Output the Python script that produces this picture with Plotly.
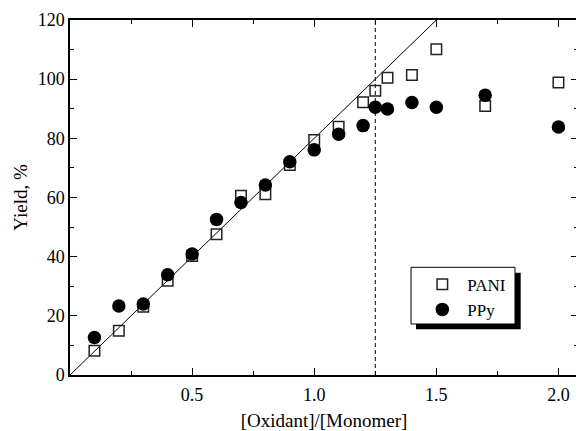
import plotly.graph_objects as go

ratio_pani = [0.1, 0.2, 0.3, 0.4, 0.5, 0.6, 0.7, 0.8, 0.9, 1.0, 1.1, 1.2, 1.25, 1.3, 1.4, 1.5, 1.7, 2.0]
yield_pani = [8.2, 15.0, 23.1, 31.9, 40.2, 47.6, 60.6, 61.1, 71.0, 79.4, 83.9, 92.2, 96.1, 100.5, 101.4, 110.1, 90.9, 98.9]

ratio_ppy = [0.1, 0.2, 0.3, 0.4, 0.5, 0.6, 0.7, 0.8, 0.9, 1.0, 1.1, 1.2, 1.25, 1.3, 1.4, 1.5, 1.7, 2.0]
yield_ppy = [12.7, 23.3, 24.0, 33.9, 40.9, 52.6, 58.3, 64.2, 72.1, 76.1, 81.4, 84.3, 90.5, 89.9, 92.1, 90.5, 94.6, 83.8]

ideal_x = [0.0, 1.5]
ideal_y = [0.0, 120.0]
limit_ratio = 1.25

FONT = "Liberation Serif"

fig = go.Figure()
fig.add_trace(go.Scatter(x=ideal_x, y=ideal_y, mode="lines",
                         line=dict(color="black", width=1), showlegend=False, hoverinfo="skip"))
fig.add_trace(go.Scatter(x=ratio_pani, y=yield_pani, mode="markers", name="PANI",
                         marker=dict(symbol="square-open", size=10.5, color="#222",
                                     line=dict(width=1.5, color="#222"))))
fig.add_trace(go.Scatter(x=ratio_ppy, y=yield_ppy, mode="markers", name="PPy",
                         marker=dict(symbol="circle", size=13.5, color="black")))

fig.add_shape(type="line", xref="x", yref="y", x0=limit_ratio, x1=limit_ratio, y0=0, y1=120,
              line=dict(color="black", width=1, dash="4px,3px"), layer="below")

# legend frame: shadow then white box
fig.add_shape(type="rect", xref="paper", yref="paper",
              x0=0.6811, x1=0.8872, y0=0.1287, y1=0.2882,
              fillcolor="black", line=dict(width=0), layer="above")
fig.add_shape(type="rect", xref="paper", yref="paper",
              x0=0.6713, x1=0.876, y0=0.1437, y1=0.3034,
              fillcolor="white", line=dict(width=1, color="black"), layer="above")

axis_common = dict(showline=True, linecolor="black", linewidth=1.5, mirror="ticks",
                   ticks="inside", tickcolor="black", tickwidth=1.2, ticklen=7,
                   showgrid=False, zeroline=False, automargin=False,
                   tickfont=dict(family=FONT, size=18, color="black"))

fig.update_xaxes(range=[0, 2.08], tickvals=[0.5, 1.0, 1.5, 2.0], ticktext=["0.5", "1.0", "1.5", "2.0"],
                 ticklabelstandoff=3,
                 minor=dict(ticks="inside", ticklen=4, tickcolor="black", tickwidth=1.2,
                            tickvals=[0.25, 0.75, 1.25, 1.75], showgrid=False),
                 title=dict(text="[Oxidant]/[Monomer]", font=dict(family=FONT, size=19, color="black"), standoff=11),
                 **axis_common)
fig.update_yaxes(range=[0, 120], tickvals=[0, 20, 40, 60, 80, 100, 120],
                 minor=dict(ticks="inside", ticklen=4, tickcolor="black", tickwidth=1.2,
                            tickvals=[10, 30, 50, 70, 90, 110], showgrid=False),
                 title=dict(text="Yield, %", font=dict(family=FONT, size=19, color="black"), standoff=5),
                 **axis_common)

# the page body adds an 8px offset, so the figure is sized to fit the window
fig.update_layout(
    width=576, height=423,
    margin=dict(l=62, r=6, t=12, b=56),
    paper_bgcolor="white", plot_bgcolor="white",
    font=dict(family=FONT, color="black"),
    legend=dict(x=0.6837, y=0.305, xanchor="left", yanchor="top",
                bgcolor="rgba(0,0,0,0)", borderwidth=0,
                font=dict(family=FONT, size=17, color="black"),
                itemwidth=40, tracegroupgap=0),
)

fig.write_html("out.html")
